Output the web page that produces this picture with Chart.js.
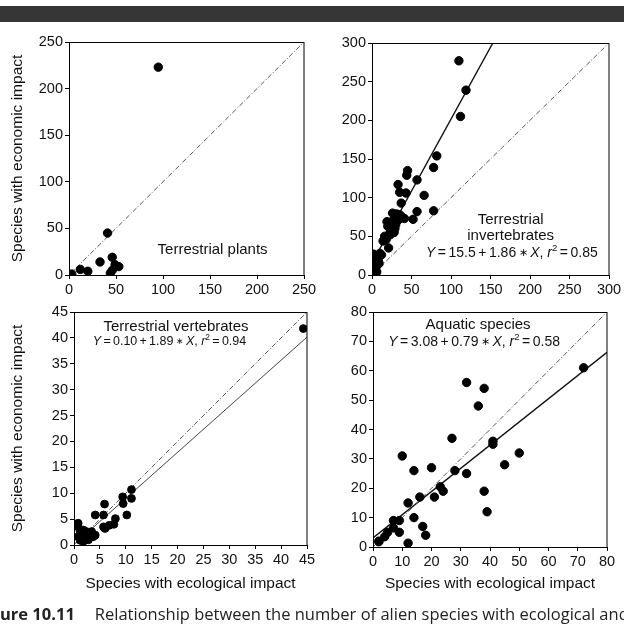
<!DOCTYPE html>
<html>
<head>
<meta charset="utf-8">
<script src="https://cdn.jsdelivr.net/npm/chart.js@4.4.1/dist/chart.umd.min.js"></script>
<style>
  html, body { margin: 0; padding: 0; background: #fff; width: 624px; height: 625px; overflow: hidden; position: relative; }
  canvas { position: absolute; }
  #bar { position: absolute; left: 0; top: 6px; width: 624px; height: 16px; background: #363636; }
  #cap { position: absolute; left: 0; top: 604px; white-space: nowrap; font: 16.5px/20px "Open Sans", sans-serif; color: #222; }
  #cap b { margin-right: 20px; }
</style>
</head>
<body>
<div id="bar"></div>
<canvas id="c1" width="330" height="280" style="left:0;top:30px"></canvas>
<canvas id="c2" width="330" height="280" style="left:312px;top:30px"></canvas>
<canvas id="c3" width="330" height="310" style="left:0;top:300px"></canvas>
<canvas id="c4" width="330" height="310" style="left:312px;top:300px"></canvas>
<div id="cap"><b>ure 10.11</b>Relationship between the number of alien species with ecological and</div>
<script>
// 데이터
const plantsX = [3, 12, 20, 33, 41, 46, 49, 53, 44, 46, 95];
const plantsY = [1, 6, 4, 14, 45, 19, 11, 9, 2, 5, 223];

const invertX = [110, 119, 112, 82, 78, 45, 44, 57, 33, 35, 43, 66, 37, 57, 78, 52, 41, 26, 31, 35,
  19, 20, 27, 30, 33, 24, 28, 22, 16, 14, 21, 10, 3, 6, 8, 4, 9, 2, 5, 4, 6, 0.5, 12, 18, 25, 29, 38, 23, 2];
const invertY = [277, 239, 205, 154, 139, 135, 129, 123, 117, 107, 106, 103, 93, 82, 83, 72, 73, 80, 79, 78,
  69, 63, 71, 65, 71, 58, 55, 53, 50, 44, 35, 28, 25, 22, 20, 18, 15, 12, 10, 9, 4, 7, 26, 46, 62, 60, 75, 52, 27];

const vertX = [44.3, 11.1, 9.4, 11.1, 5.9, 9.5, 10.2, 4.1, 5.7, 8, 7.7, 6.8, 5.7, 6, 4.1, 0.8, 0.8, 1.2,
  1.8, 2.4, 2.1, 1.5, 0.8, 3.1, 3.7, 2.8, 1.8, 3.4, 1.2, 2.5];
const vertY = [41.8, 10.7, 9.3, 9, 7.9, 8, 5.8, 5.8, 5.8, 5.1, 4, 3.8, 3.5, 3.2, 1.9, 4.2, 3.5, 2.6,
  2.9, 2.6, 1.6, 1.3, 1.6, 1.6, 1.6, 1, 0.7, 2.6, 0.9, 2.1];

const aquaX = [72, 32, 38, 36, 27, 41, 41, 50, 10, 45, 20, 14, 28, 32, 23, 24, 38, 16, 21, 12, 39, 14,
  9, 7, 17, 9, 7, 5, 18, 4, 12, 2, 2];
const aquaY = [61, 56, 54, 48, 37, 36, 35, 32, 31, 28, 27, 26, 26, 25, 20.5, 19, 19, 17, 17, 15, 12, 10,
  9, 9, 7, 5, 6.5, 5, 4, 3.5, 1.3, 1.8, 2];

// 축 범위 [min, max, step]
const plantsRange = [0, 250, 50];
const invertRange = [0, 300, 50];
const vertRange = [0, 45, 5];
const aquaRange = [0, 80, 10];

// 회귀선 [절편, 기울기] (그림에 그려진 선 기준)
const invertFit = [15.5, 1.86];
const vertFit = [0.10, 0.89];
const aquaFit = [3.08, 0.79];

const FAM = "'Liberation Sans', Arial, Helvetica, sans-serif";
const Y_TITLE = "Species with economic impact";
const X_TITLE = "Species with ecological impact";

// 회귀식 텍스트 조각 (g: 간격)
function eqParts(a, b, r2) {
  return [
    { t: "Y", i: true }, { g: 1 }, { t: "=" }, { g: 1 }, { t: a }, { g: 1 }, { t: "+" }, { g: 1 },
    { t: b }, { g: 1 }, { t: "\u2217", s: 0.75 }, { g: 1 }, { t: "X", i: true }, { t: ", " },
    { t: "r", i: true }, { t: "2", sup: true }, { g: 1 }, { t: "=" }, { g: 1 }, { t: r2 },
  ];
}

function drawRich(ctx, parts, cx, cy, size) {
  const gap = size * 0.18;
  const fontOf = (p) => (p.i ? "italic " : "") + (p.sup ? size * 0.68 : size * (p.s || 1)) + "px " + FAM;
  let w = 0;
  const ws = parts.map((p) => {
    if (p.g) { w += gap; return gap; }
    ctx.font = fontOf(p);
    const m = ctx.measureText(p.t).width;
    w += m;
    return m;
  });
  let x = cx - w / 2;
  ctx.textAlign = "left";
  ctx.textBaseline = "middle";
  ctx.fillStyle = "#111";
  parts.forEach((p, k) => {
    if (!p.g) {
      ctx.font = fontOf(p);
      ctx.fillText(p.t, x, p.sup ? cy - size * 0.33 : cy);
    }
    x += ws[k];
  });
}

// 테두리 + 주석 텍스트
const framePlugin = {
  id: "frame",
  afterDraw(chart, args, opts) {
    const { ctx, chartArea: a } = chart;
    ctx.save();
    ctx.strokeStyle = "#000";
    ctx.lineWidth = 1;
    ctx.strokeRect(Math.round(a.left) + 0.5, Math.round(a.top) + 0.5,
      Math.round(a.right - a.left) - 0.5, Math.round(a.bottom - a.top));
    (opts.notes || []).forEach((n) => {
      drawRich(ctx, n.parts, a.left + n.fx * (a.right - a.left), a.top + n.fy * (a.bottom - a.top), n.size);
    });
    ctx.restore();
  },
};

function fitLine(fit, range) {
  const [a, b] = fit;
  const xEnd = Math.min(range[1], (range[1] - a) / b);
  return [{ x: range[0], y: a + b * range[0] }, { x: xEnd, y: a + b * xEnd }];
}

function makePanel(id, o) {
  const datasets = [
    {
      data: o.xs.map((x, k) => ({ x, y: o.ys[k] })),
      backgroundColor: "#000",
      borderColor: "#000",
      pointRadius: o.r || 4.2,
      pointHoverRadius: o.r || 4.2,
    },
    {
      type: "line",
      data: [{ x: o.range[0], y: o.range[0] }, { x: o.range[1], y: o.range[1] }],
      borderColor: "#555",
      borderWidth: 1,
      borderDash: [5, 2, 1, 2],
      pointRadius: 0,
      fill: false,
    },
  ];
  if (o.fit) {
    datasets.push({
      type: "line",
      data: fitLine(o.fit, o.range),
      borderColor: o.fitColor || "#111",
      borderWidth: o.fitWidth || 1.3,
      pointRadius: 0,
      fill: false,
    });
  }
  const tickFont = { size: 14.5, family: FAM };
  const titleFont = { size: 15.5, family: FAM };
  return new Chart(document.getElementById(id), {
    type: "scatter",
    data: { datasets },
    plugins: [framePlugin],
    options: {
      responsive: false,
      animation: false,
      devicePixelRatio: 1,
      layout: { padding: o.pad },
      plugins: { legend: { display: false }, tooltip: { enabled: false }, frame: { notes: o.notes } },
      scales: {
        x: {
          type: "linear",
          min: o.range[0], max: o.range[1],
          ticks: { stepSize: o.range[2], font: tickFont, color: "#111", padding: 2, maxRotation: 0 },
          grid: { drawOnChartArea: false, tickLength: 4, color: "#000" },
          border: { color: "#000" },
          title: { display: !!o.xTitle, text: X_TITLE, font: titleFont, color: "#111", padding: { top: 4, bottom: 4 } },
          afterFit: (s) => { s.height = o.xh; },
        },
        y: {
          type: "linear",
          min: o.range[0], max: o.range[1],
          ticks: { stepSize: o.range[2], font: tickFont, color: "#111", padding: 2 },
          grid: { drawOnChartArea: false, tickLength: 4, color: "#000" },
          border: { color: "#000" },
          title: { display: !!o.yTitle, text: Y_TITLE, font: titleFont, color: "#111", padding: { top: 4, bottom: 4 } },
          afterFit: (s) => { s.width = o.yw; },
        },
      },
    },
  });
}

makePanel("c1", {
  xs: plantsX, ys: plantsY, range: plantsRange, yTitle: true,
  pad: { left: 4, top: 12, right: 26, bottom: 0 }, yw: 65, xh: 35,
  notes: [{ parts: [{ t: "Terrestrial plants" }], fx: 0.611, fy: 0.893, size: 15 }],
});

makePanel("c2", {
  xs: invertX, ys: invertY, range: invertRange, fit: invertFit, fitWidth: 1.4,
  pad: { left: 0, top: 13, right: 33, bottom: 0 }, yw: 60, xh: 35,
  notes: [
    { parts: [{ t: "Terrestrial" }], fx: 0.585, fy: 0.763, size: 15 },
    { parts: [{ t: "invertebrates" }], fx: 0.585, fy: 0.832, size: 15 },
    { parts: eqParts("15.5", "1.86", "0.85"), fx: 0.59, fy: 0.905, size: 14 },
  ],
});

makePanel("c3", {
  xs: vertX, ys: vertY, range: vertRange, fit: vertFit, fitColor: "#444", fitWidth: 1,
  yTitle: true, xTitle: true, r: 3.9,
  pad: { left: 4, top: 12, right: 23, bottom: 13 }, yw: 70, xh: 52,
  notes: [
    { parts: [{ t: "Terrestrial vertebrates" }], fx: 0.438, fy: 0.063, size: 15 },
    { parts: eqParts("0.10", "1.89", "0.94"), fx: 0.41, fy: 0.127, size: 12.5 },
  ],
});

makePanel("c4", {
  xs: aquaX, ys: aquaY, range: aquaRange, fit: aquaFit, fitWidth: 1.4, xTitle: true,
  pad: { left: 0, top: 12, right: 35, bottom: 13 }, yw: 61, xh: 50,
  notes: [
    { parts: [{ t: "Aquatic species" }], fx: 0.449, fy: 0.055, size: 15 },
    { parts: eqParts("3.08", "0.79", "0.58"), fx: 0.432, fy: 0.127, size: 14 },
  ],
});
</script>
</body>
</html>
